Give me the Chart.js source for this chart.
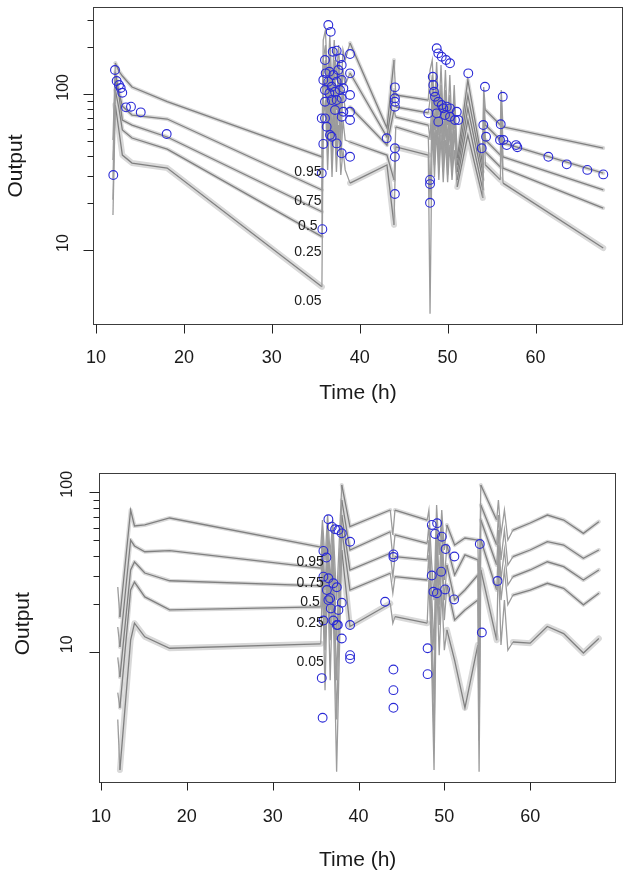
<!DOCTYPE html>
<html><head><meta charset="utf-8">
<script src="https://cdn.jsdelivr.net/npm/chart.js@4.4.1/dist/chart.umd.min.js"></script>
<style>
html,body{margin:0;padding:0;background:#fff;}
#wrap{position:relative;width:629px;height:878px;overflow:hidden;}
canvas{position:absolute;left:0;}
</style></head><body>
<div id="wrap">
<canvas id="cTop" width="629" height="440" style="top:0"></canvas>
<canvas id="cBot" width="629" height="438" style="top:440px"></canvas>
</div>
<script>
// ---------------- DATA: top panel ----------------
const pctLabels = ['0.95','0.75','0.5','0.25','0.05'];

const topTime = [11.93,12.2,12.6,13.0,14.1,18.1,35.7,35.85,36.1,36.35,36.6,36.85,37.1,37.35,37.6,37.85,38.1,38.35,38.9,43.1,43.9,44.1,47.8,48.0,48.25,48.5,48.75,49.0,49.25,49.5,49.75,50.0,50.25,50.5,50.75,51.1,52.3,54.0,54.1,54.3,56.0,56.1,56.3,67.7];
const topP95 = [50.9,158.9,141.2,131.1,111.4,89.9,39.7, 223.3,258.8,114.7,240.4,106.6,223.3,123.6,207.4,99.0,192.6,166.1,213.5, 60.8,166.1,99.0,91.9, 143.3,166.1,79.3,161.3,73.6,154.3,68.4,143.3,63.5,133.0,59.0,114.7, 39.0,123.6,35.2,111.4,79.3,63.5,106.6,61.7,45.2];
const topP75 = [37.8,139.1,103.5,84.1,73.6,69.4,24.3, 166.1,207.4,79.3,178.8,73.6,166.1,79.3,161.3,68.4,143.3,114.7,137.1, 53.2,106.6,82.9,75.9, 91.9,133.0,59.0,127.3,54.8,114.7,50.9,106.6,47.2,99.0,43.9,91.9, 35.2,99.0,31.7,99.0,63.5,50.9,91.9,48.7,31.2];
const topP50 = [28.2,123.6,99.0,68.4,63.5,53.2,17.6, 133.0,166.1,59.0,143.3,50.9,133.0,54.8,123.6,50.9,106.6,79.3,82.9, 47.2,79.3,71.5,63.5, 50.9,106.6,43.9,99.0,40.7,91.9,39.0,85.4,37.8,79.3,36.7,73.6, 31.7,81.7,28.2,85.4,50.9,40.7,79.3,39.6,24.3];
const topP25 = [21.0,106.6,81.7,59.0,52.4,44.5,12.2, 99.0,123.6,43.9,106.6,37.8,99.0,40.7,91.9,37.8,68.4,50.9,49.4, 40.7,28.2,61.7,53.2, 21.0,85.4,35.2,79.3,32.7,73.6,31.7,68.4,30.3,63.5,30.3,59.0, 28.2,68.4,24.3,73.6,42.6,34.1,68.4,33.6,18.6];
const topP05 = [16.8,85.4,59.0,40.7,36.2,33.6,5.8, 68.4,91.9,32.7,79.3,29.4,73.6,31.7,63.5,30.3,43.9,32.7,26.9, 35.2,14.5,45.9,40.7, 3.9,63.5,29.4,59.0,28.2,54.8,27.3,50.9,27.3,47.2,28.2,43.9, 25.4,54.8,21.6,63.5,35.2,28.2,59.0,26.9,10.3];

const topObsT = [12.16,12.35,12.62,12.81,12.99,13.41,13.98,15.09,18.04,11.97,
 36.43,36.70,36.05,36.93,37.38,37.76,38.90,36.13,36.54,37.0,37.57,37.95,38.9,35.86,36.43,36.81,37.38,37.95,36.05,36.54,37.19,37.76,38.14,38.9,36.05,36.81,37.38,37.95,37.19,38.14,37.95,38.9,38.9,35.68,36.05,36.24,36.62,36.81,37.38,35.86,37.95,38.9,35.68,35.75,
 43.07,44.0,44.0,44.0,44.0,44.0,44.0,44.0,
 48.76,48.94,49.33,49.82,50.27,52.35,48.31,48.37,48.45,48.57,48.94,49.33,49.51,49.90,50.27,51.04,51.22,50.84,50.27,49.70,48.76,47.80,48.94,
 48.0,48.0,48.0,
 54.25,54.06,54.37,53.88,
 56.27,56.04,55.96,56.34,56.72,57.78,57.93,61.46,63.55,65.89,67.71];
const topObsY = [143.3,121.7,114.7,109.8,102.4,82.5,83.3,76.6,55.6,30.3,
 278.6,252,166,187.7,190.6,170.3,181.5,136.4,139.7,133,143.3,154.3,136.4,123.6,120.5,111.9,120.5,123.6,106.6,101.5,103.9,106.6,109.3,99.0,89.6,91.9,91.9,94.3,79.3,77.3,71.8,77.3,68.4,70.1,70.1,61.9,54.8,53.4,48.4,48.0,41.8,39.7,31.1,13.6,
 52.2,110.9,94.3,89.6,83.3,45.0,39.7,22.9,
 197.5,183.4,174.4,166.1,158.2,136.4,129.7,114.7,103.9,96.5,89.6,85.4,81.3,83.3,81.3,77.3,68.4,68.4,71.8,73.6,75.5,75.5,66.7,
 28.2,26.5,20.1,
 111.9,63.5,53.4,45.0,
 96.5,64.2,50.9,50.9,47.2,47.2,45.7,39.7,35.5,32.7,30.6];

const topXTicks = [10,20,30,40,50,60];
const topYTicks = [10,20,30,40,50,60,70,80,90,100,200,300];
const topYLabels = [10,100];
const topLabelT = 34.1;
const topLabelY = [31.7,20.6,14.3,9.75,4.7];

// ---------------- DATA: bottom panel ----------------
const botTime = [11.95,12.2,13.45,13.9,15.1,18.0,35.6,35.8,36.1,36.4,36.7,37.0,37.45,38.05,39.0,43.7,44.0,44.25,48.0,48.2,48.5,48.8,49.1,49.4,49.7,50.0,50.3,51.2,52.4,53.9,54.05,54.25,56.1,56.3,56.6,57.0,57.4,58.0,60.0,62.0,63.9,66.2,68.0];
const botP95 = [25.6,16.6,77.5,61.6,62.5,69.1,45.5, 67.1,37.8,72.1,40.6,67.1,21.2,111.1,61.0, 77.5,54.1,77.5,67.1, 77.5,37.8,21.2,83.3,40.6,77.5,43.6,62.5, 46.8,51.8,50.3,21.2,111.1, 67.1,89.5,54.1,77.5,50.3,58.1, 64.3,72.1,67.1,55.4,65.5];
const botP75 = [14.4,10.8,50.3,46.2,42.5,43.2,33.6, 58.1,24.5,62.5,26.3,58.1,11.9,89.5,43.6, 56.7,39.6,54.1,48.0, 62.5,24.5,10.3,67.1,26.3,62.5,28.3,46.8, 30.4,40.6,37.8,10.3,83.3, 46.8,72.1,37.8,58.1,35.1,39.6, 43.6,49.1,46.8,38.7,43.6];
const botP50 = [9.3,7.0,32.7,36.7,31.3,28.0,26.0, 46.8,15.9,50.3,18.4,46.8,6.7,72.1,32.7, 41.6,29.7,39.6,37.8, 50.3,18.4,5.0,54.1,19.8,46.8,21.2,35.1, 21.2,24.5,30.4,5.0,67.1, 35.1,58.1,28.3,43.6,26.3,29.7, 32.7,36.8,34.3,28.3,32.7];
const botP25 = [5.6,4.5,24.5,27.5,22.2,18.4,19.2, 37.8,10.3,40.6,11.9,37.8,3.8,58.1,24.5, 31.2,23.4,29.7,28.3, 40.6,13.8,2.8,43.6,14.8,37.8,15.9,26.3, 15.9,18.4,21.2,2.8,50.3, 24.5,46.8,21.2,32.7,19.8,22.8, 24.5,27.0,25.1,19.8,23.4];
const botP05 = [3.8,1.84,11.9,15.2,12.5,10.6,11.3, 28.3,5.8,30.4,6.7,26.3,1.79,43.6,14.5, 20.2,15.2,16.7,15.2, 28.3,9.6,1.84,30.4,9.6,24.5,10.3,13.8, 8.9,4.5,11.1,1.79,32.7, 11.9,37.8,11.1,21.2,10.3,11.6, 11.4,14.5,13.1,9.9,12.2];

const botObsT = [36.49,36.89,37.27,37.66,38.05,39.02,35.91,36.26,35.91,36.49,37.07,37.47,36.31,36.69,38.05,37.66,35.91,37.07,37.59,39.02,38.05,39.02,39.02,35.72,35.82,36.49,36.77,37.47,
 44.07,44.07,43.10,44.07,44.07,44.07,
 48.54,49.16,48.93,49.71,50.15,51.17,48.54,49.63,48.73,49.13,50.09,51.14,48.05,48.05,
 54.13,54.37,56.19];
const botObsY = [67.8,61.0,58.7,58.1,55.4,49.1,43.0,39.1,29.7,29.0,27.0,25.5,24.5,21.8,20.4,18.4,15.8,15.8,14.8,14.8,12.2,9.6,9.1,6.9,3.9,21.2,18.8,14.8,
 40.9,39.4,20.7,7.8,5.8,4.5,
 62.5,64.0,54.9,52.8,44.2,39.7,30.2,31.9,23.9,23.4,24.7,21.4,10.6,7.3,
 47.5,13.3,27.9];

const botXTicks = [10,20,30,40,50,60];
const botYTicks = [10,20,30,40,50,60,70,80,90,100];
const botYLabels = [10,100];
const botLabelT = 34.36;
const botLabelY = [36.8,27.0,20.7,15.2,8.7];

// ---------------- rendering ----------------
const FONT = '"Liberation Sans", Arial, Helvetica, sans-serif';
const LINE_COLOR = '#808080';
const SPIKE_COLOR = '#9c9c9c';
const BAND_COLOR = '#d9d9d9';
const PT_COLOR = '#2a2ad6';

const rAxes = {
  id: 'rAxes',
  afterDatasetsDraw(chart, args, o) {
    const ctx = chart.ctx, a = chart.chartArea, xs = chart.scales.x, ys = chart.scales.y;
    ctx.save();
    ctx.strokeStyle = '#3c3c3c';
    ctx.lineWidth = 1;
    ctx.strokeRect(Math.round(a.left) + 0.5, Math.round(a.top) + 0.5,
                   Math.round(a.right - a.left) - 1, Math.round(a.bottom - a.top) - 1);
    ctx.strokeStyle = '#222';
    ctx.beginPath();
    const lx = Math.round(a.left) + 0.5;
    o.yTicks.forEach(v => {
      const py = Math.round(ys.getPixelForValue(v)) + 0.5;
      const len = o.yLabels.includes(v) ? o.majorLen : o.minorLen;
      ctx.moveTo(lx, py); ctx.lineTo(lx - len, py);
    });
    const by = Math.round(a.bottom) - 0.5;
    o.xTicks.forEach(v => {
      const px = Math.round(xs.getPixelForValue(v)) + 0.5;
      ctx.moveTo(px, by); ctx.lineTo(px, by + o.xTickLen);
    });
    ctx.stroke();

    ctx.fillStyle = '#1a1a1a';
    ctx.textAlign = 'center';
    ctx.textBaseline = 'middle';
    ctx.font = '18px ' + FONT;
    o.xTicks.forEach(v => ctx.fillText(String(v), xs.getPixelForValue(v), a.bottom + o.xLabOff));
    ctx.font = '16px ' + FONT;
    o.yLabels.forEach(v => {
      ctx.save();
      ctx.translate(a.left - o.yLabOff, ys.getPixelForValue(v) + o.yLabShift);
      ctx.rotate(-Math.PI / 2);
      ctx.fillText(String(v), 0, 0);
      ctx.restore();
    });
    ctx.font = '21px ' + FONT;
    ctx.fillText(o.xTitle, (a.left + a.right) / 2, a.bottom + o.xTitleOff);
    ctx.save();
    ctx.translate(o.yTitleX, (a.top + a.bottom) / 2 + o.yTitleShift);
    ctx.rotate(-Math.PI / 2);
    ctx.fillText(o.yTitle, 0, 0);
    ctx.restore();
    ctx.font = '14px ' + FONT;
    o.pctText.forEach((s, i) => ctx.fillText(s, xs.getPixelForValue(o.pctT), ys.getPixelForValue(o.pctY[i])));
    ctx.restore();
  }
};

function spiky(ctx) {
  const t0 = ctx.p0.parsed.x, t1 = ctx.p1.parsed.x, dt = t1 - t0;
  return dt < 0.35 || (t0 > 35 && t1 < 58.5 && dt < 0.7);
}

function build(canvasId, c) {
  const toPts = (ts, vs) => ts.map((t, i) => ({x: t, y: vs[i]}));
  const datasets = [];
  datasets.push({
    label: 'obs', data: toPts(c.obsT, c.obsY), showLine: false,
    pointRadius: 4.4, pointHoverRadius: 4.4, pointStyle: 'circle',
    pointBorderColor: PT_COLOR, pointBackgroundColor: 'rgba(0,0,0,0)', pointBorderWidth: 1.1,
    order: 0
  });
  c.pcts.forEach((arr, k) => {
    datasets.push({
      label: 'p' + pctLabels[k], data: toPts(c.time, arr), borderColor: LINE_COLOR,
      borderWidth: 1.3, pointRadius: 0, tension: 0, order: 1,
      segment: { borderColor: ctx => spiky(ctx) ? SPIKE_COLOR : undefined }
    });
  });
  c.pcts.forEach((arr, k) => {
    datasets.push({
      label: 'band' + pctLabels[k], data: toPts(c.time, arr), borderColor: BAND_COLOR,
      borderWidth: k === 4 ? 6 : 4, pointRadius: 0, tension: 0, order: 2,
      borderJoinStyle: 'round', borderCapStyle: 'round',
      segment: { borderColor: ctx => spiky(ctx) ? 'rgba(0,0,0,0)' : undefined }
    });
  });
  return new Chart(document.getElementById(canvasId), {
    type: 'line',
    data: { datasets },
    options: {
      responsive: false, animation: false, devicePixelRatio: 1,
      layout: { padding: c.pad },
      plugins: {
        legend: { display: false }, tooltip: { enabled: false },
        rAxes: c.axes
      },
      events: [],
      scales: {
        x: { type: 'linear', min: c.xmin, max: c.xmax,
             grid: { display: false, drawTicks: false }, border: { display: false },
             ticks: { display: false }, afterFit(s) { s.height = c.xh; } },
        y: { type: 'logarithmic', min: c.ymin, max: c.ymax,
             grid: { display: false, drawTicks: false }, border: { display: false },
             ticks: { display: false }, afterFit(s) { s.width = c.yw; } }
      }
    },
    plugins: [rAxes]
  });
}

build('cTop', {
  time: topTime, pcts: [topP95, topP75, topP50, topP25, topP05],
  obsT: topObsT, obsY: topObsY,
  xmin: 9.66, xmax: 69.95, ymin: 3.298, ymax: 363.9,
  pad: { left: 0, top: 7, right: 6, bottom: 0 }, xh: 115, yw: 93,
  axes: { xTicks: topXTicks, yTicks: topYTicks, yLabels: topYLabels,
          majorLen: 10, minorLen: 6, xTickLen: 9,
          xLabOff: 33, yLabOff: 29.5, yLabShift: -7,
          xTitle: 'Time (h)', xTitleOff: 68, yTitle: 'Output', yTitleX: 16, yTitleShift: 0,
          pctText: pctLabels, pctT: topLabelT, pctY: topLabelY }
});

build('cBot', {
  time: botTime, pcts: [botP95, botP75, botP50, botP25, botP05],
  obsT: botObsT, obsY: botObsY,
  xmin: 9.8, xmax: 70.0, ymin: 1.531, ymax: 132.6,
  pad: { left: 0, top: 32.7, right: 13, bottom: 0 }, xh: 95.3, yw: 99.3,
  axes: { xTicks: botXTicks, yTicks: botYTicks, yLabels: botYLabels,
          majorLen: 10, minorLen: 6, xTickLen: 8,
          xLabOff: 34.6, yLabOff: 31.8, yLabShift: -8,
          xTitle: 'Time (h)', xTitleOff: 78, yTitle: 'Output', yTitleX: 23, yTitleShift: -4,
          pctText: pctLabels, pctT: botLabelT, pctY: botLabelY }
});
</script>
</body></html>
